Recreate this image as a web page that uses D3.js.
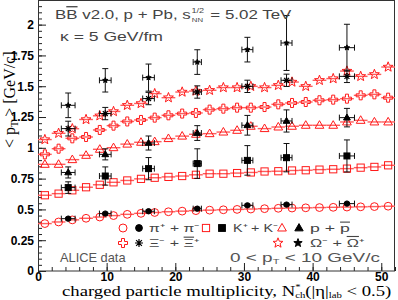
<!DOCTYPE html>
<html>
<head>
<meta charset="utf-8">
<script src="https://cdn.jsdelivr.net/npm/d3@7"></script>
<style>
  body { margin: 0; background: #fff; }
  text { font-family: "Liberation Sans", Helvetica, Arial, sans-serif; }
</style>
</head>
<body>
<svg id="chart" width="398" height="300"></svg>
<script>
// model curves (BB v2.0), bin centres
const modelX = [1, 3, 5, 7, 9, 11, 13, 15, 17, 19, 21, 23, 25, 27, 29, 31, 33, 35, 37, 39, 41, 43, 45, 47, 49, 51];
const modelPion = [0.385, 0.398, 0.415, 0.428, 0.438, 0.45, 0.46, 0.468, 0.475, 0.481, 0.486, 0.49, 0.494, 0.497, 0.5, 0.503, 0.506, 0.509, 0.511, 0.513, 0.515, 0.517, 0.519, 0.521, 0.523, 0.526];
const modelKaon = [0.615, 0.628, 0.655, 0.68, 0.7, 0.72, 0.735, 0.748, 0.757, 0.764, 0.771, 0.781, 0.79, 0.79, 0.795, 0.8, 0.808, 0.81, 0.816, 0.818, 0.823, 0.826, 0.831, 0.839, 0.845, 0.858];
const modelProton = [0.866, 0.866, 0.904, 0.939, 0.988, 1.001, 1.03, 1.045, 1.05, 1.075, 1.095, 1.11, 1.115, 1.128, 1.142, 1.175, 1.156, 1.169, 1.175, 1.183, 1.183, 1.183, 1.21, 1.223, 1.21, 1.21];
const modelXi = [0.947, 0.993, 1.077, 1.088, 1.145, 1.18, 1.214, 1.226, 1.245, 1.264, 1.278, 1.283, 1.31, 1.318, 1.326, 1.326, 1.331, 1.353, 1.364, 1.372, 1.386, 1.391, 1.399, 1.426, 1.434, 1.407];
const modelOmega = [1.067, 1.118, 1.155, 1.23, 1.26, 1.295, 1.345, 1.36, 1.44, 1.407, 1.453, 1.461, 1.467, 1.489, 1.489, 1.499, 1.489, 1.507, 1.534, 1.499, 1.548, 1.562, 1.623, 1.58, 1.596, 1.656];

// ALICE data
const aliceX = [4.4, 9.8, 16.1, 23.2, 30.5, 36.2, 45];
const aliceXErr = [1.0, 0.85, 0.85, 0.6, 0.8, 0.8, 1.1];
const alicePion = [0.425, 0.466, 0.485, 0.506, 0.533, 0.539, 0.547];
const alicePionErr = [0.01, 0.01, 0.01, 0.01, 0.01, 0.01, 0.01];
const aliceKaon = [0.677, 0.771, 0.831, 0.872, 0.898, 0.92, 0.934];
const aliceKaonErr = [0.047, 0.074, 0.09, 0.12, 0.12, 0.115, 0.13];
const aliceProton = [0.8, 0.947, 1.039, 1.12, 1.183, 1.218, 1.245];
const aliceProtonErr = [0.045, 0.045, 0.057, 0.06, 0.08, 0.09, 0.075];
const aliceXi = [1.156, 1.278, 1.4, 1.453, 1.499, 1.548, 1.58];
const aliceXiErr = [0.06, 0.05, 0.05, 0.05, 0.05, 0.05, 0.05];
const aliceOmega = [1.345, 1.548, 1.57, 1.696, 1.797, 1.851, 1.813];
const aliceOmegaErr = [0.1, 0.095, 0.11, 0.1, 0.1, 0.223, 0.19];

const xTicks = [0, 10, 20, 30, 40, 50];
const yTicks = [0, 0.25, 0.5, 0.75, 1, 1.25, 1.5, 1.75, 2];

const svg = d3.select("#chart");
const x = d3.scaleLinear().domain([0, 52]).range([38, 395]);
const y = d3.scaleLinear().domain([0, 2.2]).range([271, 0]);

const red = "#ff1a1a";
const redLine = "#ff5c5c";

// marker shapes
function starPath(R) {
    const pts = [];
    for (let i = 0; i < 10; i++) {
        const a = -Math.PI / 2 + i * Math.PI / 5;
        const r = i % 2 ? R * 0.42 : R;
        pts.push([r * Math.cos(a), r * Math.sin(a)]);
    }
    return "M" + pts.map(p => p.join(",")).join("L") + "Z";
}
function crossPath(R) {
    const a = R / 3;
    const p = [[-a,-R],[a,-R],[a,-a],[R,-a],[R,a],[a,a],[a,R],[-a,R],[-a,a],[-R,a],[-R,-a],[-a,-a]];
    return "M" + p.map(q => q.join(",")).join("L") + "Z";
}
function triPath(R) {
    return `M0,${-R}L${R * 0.95},${R * 0.65}L${-R * 0.95},${R * 0.65}Z`;
}
function asteriskPath(R) {
    const d = R * 0.72;
    return `M${-R},0L${R},0M0,${-R}L0,${R}M${-d},${-d}L${d},${d}M${-d},${d}L${d},${-d}`;
}

function drawMarker(g, type, filled, size) {
    const fill = filled ? "#000" : "none";
    const stroke = filled ? "#000" : red;
    if (type === "circle") {
        g.append("circle").attr("r", size).attr("fill", fill).attr("stroke", stroke).attr("stroke-width", 1);
    } else if (type === "square") {
        g.append("rect").attr("x", -size).attr("y", -size).attr("width", 2 * size).attr("height", 2 * size)
            .attr("fill", fill).attr("stroke", stroke).attr("stroke-width", 1);
    } else if (type === "triangle") {
        g.append("path").attr("d", triPath(size)).attr("fill", fill).attr("stroke", stroke).attr("stroke-width", 1);
    } else if (type === "cross") {
        g.append("path").attr("d", crossPath(size)).attr("fill", fill).attr("stroke", stroke).attr("stroke-width", 1);
    } else if (type === "asterisk") {
        g.append("path").attr("d", asteriskPath(size)).attr("fill", "none").attr("stroke", "#000").attr("stroke-width", 1.2);
    } else if (type === "star") {
        g.append("path").attr("d", starPath(size)).attr("fill", fill).attr("stroke", stroke).attr("stroke-width", 1);
    }
}

// stretch a text horizontally so it spans the given width
function fitWidth(sel, x0, w) {
    const bw = sel.node().getBBox().width;
    sel.attr("transform", `translate(${x0},0) scale(${w / bw},1) translate(${-x0},0)`);
}

// frame + ticks
const plot = svg.append("g");

plot.append("g").attr("transform", "translate(38,0)")
    .call(d3.axisLeft(y).tickValues(d3.range(0, 2.2001, 0.05)).tickSize(-4).tickFormat(""))
    .call(g => g.select(".domain").remove())
    .call(g => g.selectAll("text").remove())
    .selectAll("line").attr("stroke", "#222");
plot.append("g").attr("transform", "translate(38,0)")
    .call(d3.axisLeft(y).tickValues(yTicks).tickSize(-8).tickPadding(4)
        .tickFormat(d => String(+d.toFixed(2))))
    .call(g => g.select(".domain").remove())
    .call(g => g.selectAll("line").attr("stroke", "#222"))
    .call(g => g.selectAll("text").attr("font-size", 12).attr("font-weight", "bold")
        .attr("fill", "#000").style("font-family", "Liberation Sans, Arial, sans-serif"));

plot.append("g").attr("transform", "translate(0,271)")
    .call(d3.axisBottom(x).tickValues(d3.range(0, 52.001, 2)).tickSize(-4).tickFormat(""))
    .call(g => g.select(".domain").remove())
    .call(g => g.selectAll("text").remove())
    .selectAll("line").attr("stroke", "#222");
plot.append("g").attr("transform", "translate(0,271)")
    .call(d3.axisBottom(x).tickValues(xTicks).tickSize(-8).tickPadding(1))
    .call(g => g.select(".domain").remove())
    .call(g => g.selectAll("line").attr("stroke", "#222"))
    .call(g => g.selectAll("text").attr("font-size", 12).attr("font-weight", "bold")
        .attr("fill", "#000").style("font-family", "Liberation Sans, Arial, sans-serif"));

plot.append("rect").attr("x", 38.5).attr("y", 0.5).attr("width", 356).attr("height", 270.5)
    .attr("fill", "none").attr("stroke", "#333").attr("stroke-width", 1);

// model series
const modelSeries = [
    { values: modelPion, type: "circle", size: 3.9 },
    { values: modelKaon, type: "square", size: 3.6 },
    { values: modelProton, type: "triangle", size: 4.6 },
    { values: modelXi, type: "cross", size: 4.5 },
    { values: modelOmega, type: "star", size: 5.2 }
];

modelSeries.forEach(s => {
    const g = svg.append("g");
    g.selectAll("line.hbar").data(modelX).join("line")
        .attr("x1", d => x(d - 1)).attr("x2", d => x(d + 1))
        .attr("y1", (d, i) => y(s.values[i])).attr("y2", (d, i) => y(s.values[i]))
        .attr("stroke", redLine).attr("stroke-width", 1.4);
    modelX.forEach((d, i) => {
        const m = g.append("g").attr("transform", `translate(${x(d)},${y(s.values[i])})`);
        drawMarker(m, s.type, false, s.size);
    });
});

// ALICE series
const aliceSeries = [
    { values: alicePion, err: alicePionErr, type: "circle", size: 2.7 },
    { values: aliceKaon, err: aliceKaonErr, type: "square", size: 3 },
    { values: aliceProton, err: aliceProtonErr, type: "triangle", size: 3.6 },
    { values: aliceXi, err: aliceXiErr, type: "asterisk", size: 3.4 },
    { values: aliceOmega, err: aliceOmegaErr, type: "star", size: 2.8 }
];

aliceSeries.forEach(s => {
    const g = svg.append("g").attr("stroke", "#111").attr("stroke-width", 1);
    aliceX.forEach((d, i) => {
        const cx = x(d), cy = y(s.values[i]);
        const y0 = y(s.values[i] - s.err[i]), y1 = y(s.values[i] + s.err[i]);
        const x0 = x(d - aliceXErr[i]), x1 = x(d + aliceXErr[i]);
        g.append("line").attr("x1", cx).attr("x2", cx).attr("y1", y0).attr("y2", y1);
        g.append("line").attr("x1", cx - 3).attr("x2", cx + 3).attr("y1", y0).attr("y2", y0);
        g.append("line").attr("x1", cx - 3).attr("x2", cx + 3).attr("y1", y1).attr("y2", y1);
        g.append("line").attr("x1", x0).attr("x2", x1).attr("y1", cy).attr("y2", cy);
        g.append("line").attr("x1", x0).attr("x2", x0).attr("y1", cy - 3).attr("y2", cy + 3);
        g.append("line").attr("x1", x1).attr("x2", x1).attr("y1", cy - 3).attr("y2", cy + 3);
        const m = g.append("g").attr("transform", `translate(${cx},${cy})`);
        drawMarker(m, s.type, true, s.size);
    });
});

// title text
const title = svg.append("text").attr("x", 55).attr("y", 19).attr("font-size", 13).attr("fill", "#444");
title.append("tspan").text("B");
title.append("tspan").style("text-decoration", "overline").text("B");
title.append("tspan").text(" v2.0, p + Pb, s");
title.append("tspan").attr("font-size", 7).attr("dx", 0.5).attr("dy", -6).text("1/2");
title.append("tspan").attr("font-size", 6).attr("dx", -9.5).attr("dy", 9).text("NN");
title.append("tspan").attr("dx", 2).attr("dy", -3).text(" = 5.02 TeV");
fitWidth(title, 55, 237);

const kappa = svg.append("text").attr("x", 60).attr("y", 41).attr("font-size", 13).attr("fill", "#444")
    .text("\u03ba = 5 GeV/fm");
fitWidth(kappa, 60, 103);

// legend
const legendRows = [
    { y: 228, items: [
        { type: "circle", hs: 4, fs: 3.4, mx: 123, tx: 149, tw: 51, label: ["\u03c0\u207a + \u03c0\u207b"] },
        { type: "square", hs: 3.6, fs: 3.4, mx: 206, tx: 233, tw: 46, label: ["K\u207a + K\u207b"] },
        { type: "triangle", hs: 4.6, fs: 4.4, mx: 282, tx: 310, tw: 40, label: ["p + ", "p", ""] }
    ]},
    { y: 243, items: [
        { type: "cross", hs: 4.5, fs: 4, mx: 123, tx: 149, tw: 51, label: ["\u039e\u207b + ", "\u039e", "\u207a"] },
        { type: "star", hs: 5.2, fs: 4.4, mx: 278, tx: 310, tw: 55, label: ["\u03a9\u207b + ", "\u03a9", "\u207a"] }
    ]}
];
legendRows.forEach(row => {
    row.items.forEach(it => {
        const fx = it.type === "star" ? it.mx + 20 : it.type === "triangle" ? it.mx + 17 : it.mx + 16;
        drawMarker(svg.append("g").attr("transform", `translate(${it.mx},${row.y})`), it.type, false, it.hs);
        const ft = it.type === "cross" ? "asterisk" : it.type;
        drawMarker(svg.append("g").attr("transform", `translate(${fx},${row.y})`), ft, true, it.fs);
        const t = svg.append("text").attr("x", it.tx).attr("y", row.y + 4).attr("font-size", 11).attr("fill", "#444");
        t.append("tspan").text(it.label[0]);
        if (it.label.length > 1) {
            t.append("tspan").style("text-decoration", "overline").text(it.label[1]);
            t.append("tspan").text(it.label[2]);
        }
        fitWidth(t, it.tx, it.tw);
    });
});

const alice = svg.append("text").attr("x", 60).attr("y", 262).attr("font-size", 12).attr("fill", "#555").text("ALICE data");
fitWidth(alice, 60, 66);
const pt = svg.append("text").attr("x", 230).attr("y", 262).attr("font-size", 12).attr("fill", "#555");
pt.append("tspan").text("0 < p");
pt.append("tspan").attr("font-size", 7).attr("dy", 2).text("T");
pt.append("tspan").attr("dy", -2).text(" < 10 GeV/c");
fitWidth(pt, 230, 150);

// axis titles
const xt = svg.append("text").attr("x", 62).attr("y", 296.5).attr("font-size", 14)
    .style("font-family", "Liberation Serif, Times New Roman, serif").attr("fill", "#000");
xt.append("tspan").text("charged particle multiplicity, N");
xt.append("tspan").attr("font-size", 8).attr("dy", -6).text("*");
xt.append("tspan").attr("font-size", 8).attr("dx", -4).attr("dy", 7.5).text("ch");
xt.append("tspan").attr("dy", -1.5).text("(|\u03b7|");
xt.append("tspan").attr("font-size", 8).attr("dy", 1.5).text("lab");
xt.append("tspan").attr("dy", -1.5).text(" < 0.5)");
fitWidth(xt, 62, 330);

const yt = svg.append("text").attr("transform", "translate(15,148) rotate(-90)").attr("font-size", 16)
    .style("font-family", "Liberation Serif, Times New Roman, serif").attr("fill", "#000");
yt.append("tspan").text("< p");
yt.append("tspan").attr("font-size", 10).attr("dy", 3).text("T");
yt.append("tspan").attr("dy", -3).text(" > [GeV/c]");
</script>
</body>
</html>
